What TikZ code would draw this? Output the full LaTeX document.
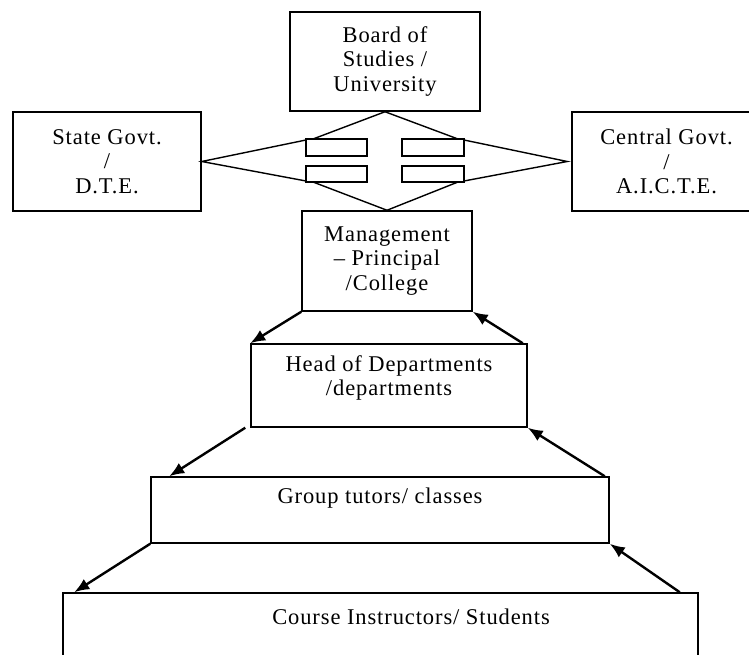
\documentclass[tikz,border=0pt]{standalone}
\usepackage{fontspec}
\setmainfont{Liberation Serif}[LetterSpace=4]
\usetikzlibrary{arrows.meta}
\tikzset{
	box/.style={draw,line width=1.5pt,inner sep=0pt,align=center,font=\fontsize{22.5}{24.5}\selectfont},
	txt/.style={align=center,font=\fontsize{22.5}{24.5}\selectfont},
	flow/.style={line width=2.4pt,-{Latex[length=15pt,width=12pt]}},
	quad/.style={line width=1.4pt}
}

\begin{document}
\begin{tikzpicture}[x=1pt,y=-1pt]
	\useasboundingbox (0,0) rectangle (749,655);
	\clip (0,0) rectangle (749,655);
	\node[box,minimum width=190,minimum height=99] (board) at (385,61.5) {Board of\\Studies /\\University};
	\node[box,minimum width=188,minimum height=99] (state) at (107,161.5) {State Govt.\\/\\D.T.E.};
	\node[box,minimum width=189,minimum height=99] (central) at (666.5,161.5) {Central Govt.\\/\\A.I.C.T.E.};
	\node[box,minimum width=170,minimum height=100] (mgmt) at (387,261) {Management\\-- Principal\\/College};
	\node[box,minimum width=276,minimum height=83] (hod) at (389,385.5) {};
	\node[txt] (hodT) at (389,378) {Head of Departments\\/departments};
	\node[box,minimum width=458,minimum height=66] (group) at (380,510) {};
	\node[txt] (groupT) at (380,498) {Group tutors/ classes};
	\node[box,minimum width=635,minimum height=107] (course) at (380.5,646.5) {};
	\node[txt] (courseT) at (411,617) {Course Instructors/ Students};
	% four way arrow
	\draw[quad] (306,140) -- (state.east) -- (306,181);
	\draw[quad] (313,139) -- (board.south) -- (458,139);
	\draw[quad] (464,140) -- ([xshift=-4pt]central.west) -- (464,181);
	\draw[quad] (313,182) -- (mgmt.north) -- (458,182);
	\draw[quad] (306,139) rectangle (367,156);
	\draw[quad] (402,139) rectangle (464,156);
	\draw[quad] (306,166) rectangle (367,182);
	\draw[quad] (402,166) rectangle (464,182);
	\draw[flow] (mgmt.south west) -- (hod.north west);
	\draw[flow] ([xshift=-5pt]hod.north east) -- (mgmt.south east);
	\draw[flow] ([xshift=-5pt]hod.south west) -- ([xshift=19pt]group.north west);
	\draw[flow] ([xshift=-5pt]group.north east) -- (hod.south east);
	\draw[flow] (group.south west) -- ([xshift=12pt]course.north west);
	\draw[flow] ([xshift=-19pt]course.north east) -- (group.south east);
\end{tikzpicture}
\end{document}
